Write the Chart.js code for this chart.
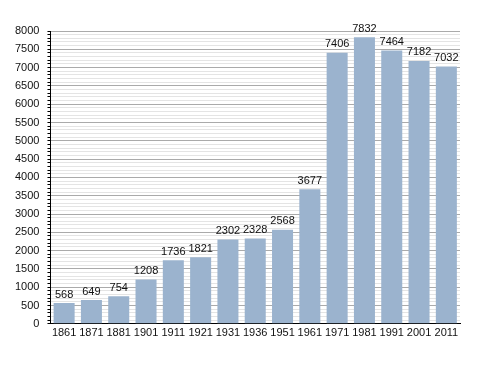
<!DOCTYPE html>
<html>
<head>
<meta charset="utf-8">
<script src="https://cdn.jsdelivr.net/npm/chart.js@4"></script>
<style>
  html, body { margin: 0; padding: 0; background: #fff; }
  #wrap { width: 488px; height: 373px; }
</style>
</head>
<body>
<div id="wrap"><canvas id="chart" width="488" height="373"></canvas></div>
<script>
var years = ['1861', '1871', '1881', '1901', '1911', '1921', '1931', '1936', '1951', '1961', '1971', '1981', '1991', '2001', '2011'];
var population = [568, 649, 754, 1208, 1736, 1821, 2302, 2328, 2568, 3677, 7406, 7832, 7464, 7182, 7032];

// draws the value on top of each bar
var barValues = {
    id: 'barValues',
    afterDatasetsDraw: function(chart) {
        var ctx = chart.ctx;
        var meta = chart.getDatasetMeta(0);
        ctx.save();
        ctx.font = '11px "Liberation Sans", Arial, sans-serif';
        ctx.fillStyle = '#111';
        ctx.textAlign = 'center';
        ctx.textBaseline = 'bottom';
        meta.data.forEach(function(bar, i) {
            ctx.fillText(population[i], bar.x, bar.y - 3);
        });
        ctx.restore();
    }
};

new Chart(document.getElementById('chart').getContext('2d'), {
    type: 'bar',
    data: {
        labels: years,
        datasets: [{
            data: population,
            backgroundColor: '#9bb3ce',
            borderWidth: 0,
            barPercentage: 0.77,
            categoryPercentage: 1.0
        }]
    },
    options: {
        responsive: false,
        animation: false,
        layout: { padding: { top: 31, right: 28, bottom: 30, left: 7 } },
        plugins: {
            legend: { display: false },
            tooltip: { enabled: false }
        },
        scales: {
            x: {
                grid: { display: false, drawTicks: false },
                border: { color: '#000', width: 1 },
                ticks: {
                    color: '#111',
                    padding: 3,
                    maxRotation: 0,
                    autoSkip: false,
                    font: { family: '"Liberation Sans", Arial, sans-serif', size: 11 }
                }
            },
            y: {
                min: 0,
                max: 8000,
                border: { color: '#000', width: 1 },
                grid: {
                    color: function(c) {
                        return c.tick && c.tick.value % 500 === 0 ? '#aaaaaa' : '#e4e4e4';
                    },
                    tickColor: '#000',
                    tickLength: 3
                },
                ticks: {
                    stepSize: 100,
                    maxTicksLimit: 200,
                    autoSkip: false,
                    color: '#111',
                    padding: 8,
                    font: { family: '"Liberation Sans", Arial, sans-serif', size: 11 },
                    callback: function(v) {
                        return v % 500 === 0 ? v : '';
                    }
                }
            }
        }
    },
    plugins: [barValues]
});
</script>
</body>
</html>
